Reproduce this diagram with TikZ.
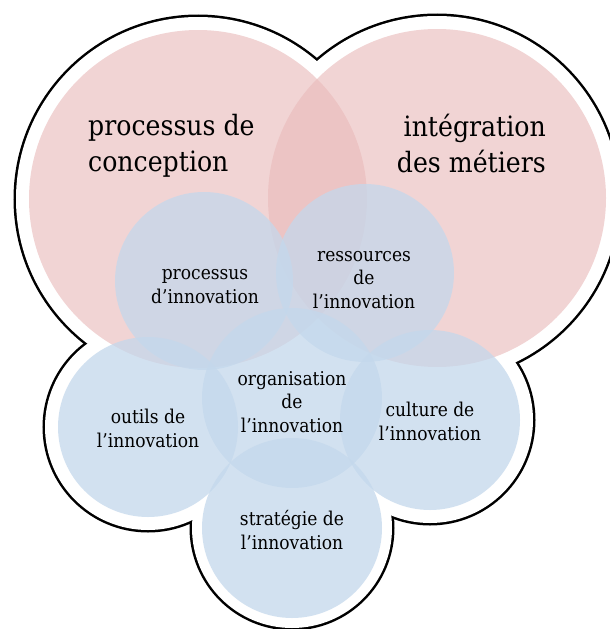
\documentclass[tikz,border=0pt]{standalone}
\usepackage{fontspec}
\setmainfont{DejaVu Serif}[FakeStretch=0.9]
\definecolor{pinkc}{RGB}{234,187,187}
\definecolor{bluec}{RGB}{196,216,236}
\begin{document}
\begin{tikzpicture}[x=1pt,y=-1pt,
  outlinering/.style={draw=black, line width=5pt},
  pinkdisc/.style={fill=pinkc, fill opacity=0.63},
  bluedisc/.style={fill=bluec, fill opacity=0.75},
  bigtxt/.style={font=\fontsize{28}{36}\selectfont, inner sep=0pt},
  smalltxt/.style={font=\fontsize{19}{23.5}\selectfont, align=center, inner sep=0pt, anchor=base}]
\useasboundingbox (0,0) rectangle (610,629);
% outer outline (union of enlarged circles)
\foreach \cx/\cy/\r in {198/199/182, 437/198/182, 148/427/103, 430/420/103, 292/528/100}
  \draw[outlinering] (\cx,\cy) circle[radius=\r pt];
\foreach \cx/\cy/\r in {198/199/182, 437/198/182, 148/427/103, 430/420/103, 292/528/100, 292/398/103, 204/281/100, 365/273/100}
  \fill[white] (\cx,\cy) circle[radius=\r pt];
% pink circles
\fill[pinkdisc] (198,199) circle[radius=169pt];
\fill[pinkdisc] (437,198) circle[radius=169pt];
% blue circles
\fill[bluedisc] (204,281) circle[radius=89pt];
\fill[bluedisc] (365,273) circle[radius=89pt];
\fill[bluedisc] (292,398) circle[radius=90pt];
\fill[bluedisc] (148,427) circle[radius=90pt];
\fill[bluedisc] (430,420) circle[radius=90pt];
\fill[bluedisc] (292,528) circle[radius=90pt];
% texts (anchor base = baseline of the last line)
\node[bigtxt, anchor=base west, align=left] (conc) at (88,171) {processus de\\conception};
\node[bigtxt, anchor=base east, align=right] (metiers) at (546,172) {intégration\\des métiers};
\node[smalltxt] (procinn) at (205,303) {processus\\d’innovation};
\node[smalltxt] (ress) at (364,308) {ressources\\de\\l’innovation};
\node[smalltxt] (orga) at (292,432) {organisation\\de\\l’innovation};
\node[smalltxt] (outils) at (148,447) {outils de\\l’innovation};
\node[smalltxt] (culture) at (430,440) {culture de\\l’innovation};
\node[smalltxt] (strat) at (292,549) {stratégie de\\l’innovation};
\end{tikzpicture}
\end{document}
